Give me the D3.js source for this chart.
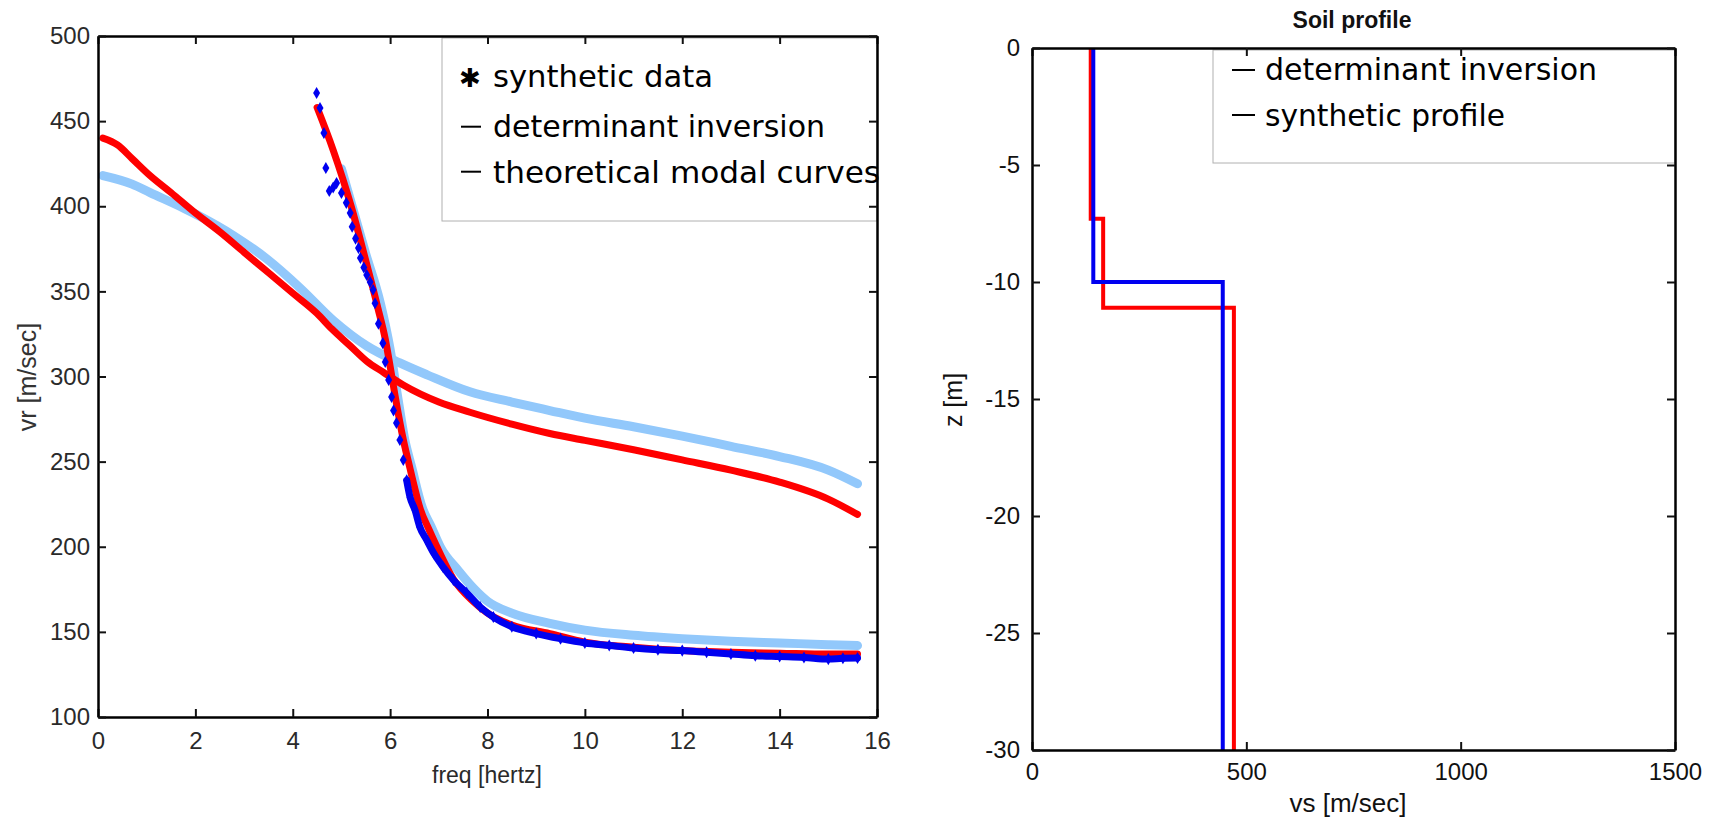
<!DOCTYPE html>
<html><head><meta charset="utf-8">
<script src="https://cdn.jsdelivr.net/npm/d3@7"></script>
<style>body{margin:0;background:#fff;} svg{display:block;}</style>
</head><body><svg id="c" width="1711" height="820"></svg>
<script>
// ================= DATA =================
// Left panel: dispersion curves (freq [Hz] vs phase velocity [m/s])
const freqTicks = [0, 2, 4, 6, 8, 10, 12, 14, 16];
const velTicks = [100, 150, 200, 250, 300, 350, 400, 450, 500];

// theoretical modal curves (light blue) - higher mode
const theoHighFreq = [0.1, 0.7, 1.07, 1.75, 2.1, 2.77, 3.47, 4.15, 4.83, 5.52, 6.2, 6.76, 7.64, 8.5, 9.28, 10.0, 11.0, 12.0, 13.0, 14.0, 15.0, 15.6];
const theoHighVel  = [418, 413, 408, 399, 394, 383, 369, 352, 333, 318, 308, 301, 291, 285, 280, 275.5, 270.5, 265, 259, 253, 245, 237];
// theoretical modal curves (light blue) - fundamental mode
const theoLowFreq = [5.0, 5.5, 5.8, 6.0, 6.15, 6.3, 6.44, 6.66, 6.84, 7.03, 7.4, 7.7, 8.0, 8.5, 9.28, 10.0, 11.0, 12.0, 13.0, 14.0, 15.0, 15.6];
const theoLowVel  = [422, 372, 343, 316, 289, 263, 247, 223, 212, 200, 186, 176, 168, 161, 155, 151, 148, 146, 144.5, 143.5, 142.5, 142];

// determinant inversion (red) - higher mode
const detHighFreq = [0.1, 0.4, 0.7, 1.07, 1.5, 2.0, 2.5, 3.0, 3.5, 4.0, 4.5, 4.8, 5.18, 5.52, 5.86, 6.27, 7.0, 7.64, 8.5, 9.28, 10.0, 11.0, 12.0, 13.0, 14.0, 15.0, 15.6];
const detHighVel  = [440, 436, 428, 418, 408, 396, 385, 373, 361, 349, 337, 328, 318, 309, 302.5, 295, 285, 279, 272, 266.5, 262.5, 257, 251, 245, 238, 228, 219];
// determinant inversion (red) - fundamental mode
const detLowFreq = [4.5, 4.83, 5.2, 5.5, 5.75, 5.9, 6.0, 6.1, 6.27, 6.4, 6.5, 6.61, 6.8, 6.96, 7.3, 7.7, 8.0, 8.5, 9.28, 10.0, 11.0, 12.0, 13.0, 14.0, 15.0, 15.6];
const detLowVel  = [458, 433, 400, 368, 340, 322, 306, 289, 263, 247, 235, 223, 210, 200, 181, 168, 161, 154, 149, 144, 141, 139, 138, 137.5, 137, 137];

// synthetic data (blue markers)
const synthFreq = [4.49, 4.56, 4.64, 4.68, 4.75, 4.83, 4.90, 5.00, 5.10, 5.18, 5.22, 5.29, 5.35, 5.39, 5.46, 5.52, 5.59, 5.65, 5.69, 5.76, 5.85, 5.90, 5.97, 6.03, 6.07, 6.13, 6.20, 6.27, 6.34, 6.41, 6.51, 6.61, 6.75, 6.90, 7.09, 7.30, 7.57, 7.85, 8.12, 8.5, 9.0, 9.5, 10.0, 10.5, 11.0, 11.5, 12.0, 12.5, 13.0, 13.5, 14.0, 14.5, 15.0, 15.3, 15.6];
const synthVel  = [466.5, 457.7, 443, 422.5, 409, 411, 413.6, 407.8, 402, 396, 388, 381, 375.5, 369.6, 364, 359.6, 355.5, 351, 343, 331, 319.6, 308.5, 298, 288, 280, 272.7, 262.7, 251, 239, 229, 221.6, 211.6, 204, 196, 188, 180.5, 173, 164.6, 158.7, 153, 149, 146, 143.5, 142, 140.5, 139.5, 139, 138, 137, 136, 135.5, 135, 134, 134.5, 134.6];

const leftLegend = ["synthetic data", "determinant inversion", "theoretical modal curves"];

// Right panel: soil profile (vs [m/s] vs depth z [m])
const vsTicks = [0, 500, 1000, 1500];
const zTicks = [0, -5, -10, -15, -20, -25, -30];
const detDepth = [0, -7.3, -11.1, -30];     // layer boundaries
const detVs    = [137, 166, 471];           // layer velocities
const synthDepth = [0, -10, -30];
const synthVs    = [143, 445];
const rightLegend = ["determinant inversion", "synthetic profile"];

// ================= DRAW =================
const svg = d3.select("#c");
const RED = "#ff0000", BLUE = "#0000f0", LBLUE = "#92c8fb";
const tickFont = "'Liberation Sans', Arial, Helvetica, sans-serif";
const legFont = "'DejaVu Sans', Verdana, sans-serif";

function drawFrame(x, y, xt, yt, o) {
  const [x0, x1] = x.range(), [y0, y1] = y.range(); // y0 bottom, y1 top
  const fmt = d => String(d);
  const style = (g) => {
    g.attr("font-size", 24).attr("font-family", tickFont).attr("color", o.color);
    g.select(".domain").attr("stroke", "#000").attr("stroke-width", 2.5);
    g.selectAll(".tick line").attr("stroke", "#111").attr("stroke-width", 2);
    g.selectAll(".tick text").attr("fill", o.color);
  };
  svg.append("g").attr("transform", `translate(0,${y0})`)
    .call(d3.axisBottom(x).tickValues(xt).tickSize(-8).tickSizeOuter(0).tickPadding(o.padB).tickFormat(fmt)).call(style);
  svg.append("g").attr("transform", `translate(0,${y1})`)
    .call(d3.axisTop(x).tickValues(xt).tickSize(-8).tickSizeOuter(0).tickFormat("")).call(style);
  svg.append("g").attr("transform", `translate(${x0},0)`)
    .call(d3.axisLeft(y).tickValues(yt).tickSize(-8).tickSizeOuter(0).tickPadding(o.padL).tickFormat(fmt)).call(style);
  svg.append("g").attr("transform", `translate(${x1},0)`)
    .call(d3.axisRight(y).tickValues(yt).tickSize(-8).tickSizeOuter(0).tickFormat("")).call(style);
}

// ---------- Left panel ----------
const xL = d3.scaleLinear().domain([0, 16]).range([98, 877]);
const yL = d3.scaleLinear().domain([100, 500]).range([717, 36]);
const lineL = d3.line().x(d => xL(d[0])).y(d => yL(d[1])).curve(d3.curveMonotoneX);
const zip = (a, b) => a.map((v, i) => [v, b[i]]);

const curves = svg.append("g");
curves.append("path").datum(zip(theoHighFreq, theoHighVel)).attr("d", lineL)
  .attr("fill", "none").attr("stroke", LBLUE).attr("stroke-width", 9).attr("stroke-linecap", "round");
curves.append("path").datum(zip(theoLowFreq, theoLowVel)).attr("d", lineL)
  .attr("fill", "none").attr("stroke", LBLUE).attr("stroke-width", 9).attr("stroke-linecap", "round");
curves.append("path").datum(zip(detHighFreq, detHighVel)).attr("d", lineL)
  .attr("fill", "none").attr("stroke", RED).attr("stroke-width", 7).attr("stroke-linecap", "round");
curves.append("path").datum(zip(detLowFreq, detLowVel)).attr("d", lineL)
  .attr("fill", "none").attr("stroke", RED).attr("stroke-width", 7).attr("stroke-linecap", "round");

const synthPts = zip(synthFreq, synthVel);
curves.append("path").datum(synthPts.filter(d => d[0] >= 6.3)).attr("d", lineL)
  .attr("fill", "none").attr("stroke", BLUE).attr("stroke-width", 7).attr("stroke-linecap", "round");
const diamond = d3.symbol(d3.symbolDiamond, 42);
curves.selectAll(".syn").data(synthPts).join("path").attr("class", "syn")
  .attr("d", diamond).attr("transform", d => `translate(${xL(d[0])},${yL(d[1])})`).attr("fill", BLUE);

// left legend
const legL = svg.append("g");
legL.append("rect").attr("x", 442).attr("y", 38).attr("width", 877 - 442).attr("height", 221 - 38)
  .attr("fill", "#fff").attr("stroke", "#b0b0b0").attr("stroke-width", 1);
legL.append("text").attr("x", 470).attr("y", 87).attr("text-anchor", "middle")
  .attr("font-family", legFont).attr("font-size", 26).text("\u2731");
[126.7, 171.7].forEach(yy => legL.append("line").attr("x1", 461).attr("x2", 481).attr("y1", yy).attr("y2", yy)
  .attr("stroke", "#000").attr("stroke-width", 2));
const leftLegY = [87, 137, 183], leftLegW = [220, 332, 387];
leftLegend.forEach((t, i) => legL.append("text").attr("x", 493).attr("y", leftLegY[i])
  .attr("font-family", legFont).attr("font-size", 30).attr("fill", "#000")
  .attr("textLength", leftLegW[i]).attr("lengthAdjust", "spacingAndGlyphs").text(t));

drawFrame(xL, yL, freqTicks, velTicks, { padB: 15, padL: 8, color: "#2a2a2a" });

svg.append("text").attr("x", 487).attr("y", 783).attr("text-anchor", "middle")
  .attr("font-family", tickFont).attr("font-size", 23).attr("fill", "#2a2a2a").text("freq [hertz]");
svg.append("text").attr("transform", "translate(36,377) rotate(-90)").attr("text-anchor", "middle")
  .attr("font-family", tickFont).attr("font-size", 25).attr("fill", "#333").text("vr [m/sec]");

// ---------- Right panel ----------
const xR = d3.scaleLinear().domain([0, 1500]).range([1032, 1675]);
const yR = d3.scaleLinear().domain([-30, 0]).range([750, 48]);
const lineR = d3.line().x(d => xR(d[0])).y(d => yR(d[1]));
const steps = (depth, vs) => vs.flatMap((v, i) => [[v, depth[i]], [v, depth[i + 1]]]);

svg.append("path").datum(steps(detDepth, detVs)).attr("d", lineR)
  .attr("fill", "none").attr("stroke", RED).attr("stroke-width", 4);
svg.append("path").datum(steps(synthDepth, synthVs)).attr("d", lineR)
  .attr("fill", "none").attr("stroke", BLUE).attr("stroke-width", 4);

const legR = svg.append("g");
legR.append("rect").attr("x", 1213).attr("y", 50).attr("width", 1675 - 1213).attr("height", 163 - 50)
  .attr("fill", "#fff").attr("stroke", "#b0b0b0").attr("stroke-width", 1);
[70, 115].forEach(yy => legR.append("line").attr("x1", 1232).attr("x2", 1255).attr("y1", yy).attr("y2", yy)
  .attr("stroke", "#000").attr("stroke-width", 2));
const rightLegY = [80, 126], rightLegW = [332, 240];
rightLegend.forEach((t, i) => legR.append("text").attr("x", 1265).attr("y", rightLegY[i])
  .attr("font-family", legFont).attr("font-size", 30).attr("fill", "#000")
  .attr("textLength", rightLegW[i]).attr("lengthAdjust", "spacingAndGlyphs").text(t));

drawFrame(xR, yR, vsTicks, zTicks, { padB: 13, padL: 12, color: "#111" });

svg.append("text").attr("x", 1352).attr("y", 28).attr("text-anchor", "middle")
  .attr("font-family", tickFont).attr("font-weight", "bold").attr("font-size", 23).attr("fill", "#111").text("Soil profile");
svg.append("text").attr("x", 1348).attr("y", 812).attr("text-anchor", "middle")
  .attr("font-family", tickFont).attr("font-size", 26).attr("fill", "#111").text("vs [m/sec]");
svg.append("text").attr("transform", "translate(962,400) rotate(-90)").attr("text-anchor", "middle")
  .attr("font-family", tickFont).attr("font-size", 25).attr("fill", "#111").text("z [m]");
</script>
</body></html>
